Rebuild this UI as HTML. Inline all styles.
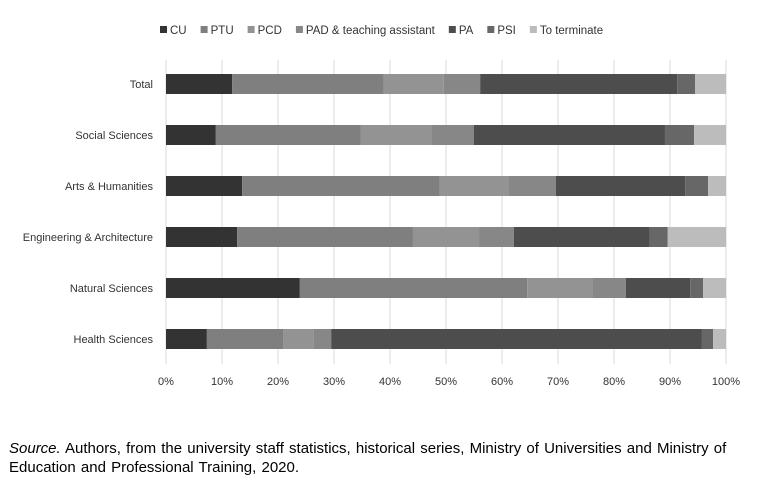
<!DOCTYPE html>
<html><head><meta charset="utf-8"><style>
body{margin:0;background:#fff;width:757px;height:491px;overflow:hidden;font-family:"Liberation Sans",sans-serif}
svg text{font-family:"Liberation Sans",sans-serif}
#src{position:absolute;left:9px;top:439px;font-size:15px;line-height:19px;color:#000;width:756px;word-spacing:1px}
</style></head><body>
<svg id="chart" width="757" height="430" style="position:absolute;left:0;top:0"></svg>
<div id="src"><i>Source.</i> Authors, from the university staff statistics, historical series, Ministry of Universities and Ministry of Education and Professional Training, 2020.</div>
<script>
const categories=["Total","Social Sciences","Arts & Humanities","Engineering & Architecture","Natural Sciences","Health Sciences"];
const seriesNames=["CU","PTU","PCD","PAD & teaching assistant","PA","PSI","To terminate"];
const CU=[11.8,8.9,13.6,12.7,23.9,7.3];
const PTU=[27.1,25.9,35.3,31.4,40.6,13.6];
const PCD=[10.7,12.7,12.2,11.8,11.6,5.4];
const PAD=[6.5,7.5,8.5,6.2,6.0,3.2];
const PA=[35.2,34.1,23.1,24.3,11.5,66.2];
const PSI=[3.2,5.2,4.1,3.2,2.3,2.0];
const TT=[5.5,5.7,3.2,10.4,4.1,2.3];
const tickLabels=["0%","10%","20%","30%","40%","50%","60%","70%","80%","90%","100%"];
const series=[CU,PTU,PCD,PAD,PA,PSI,TT];
const colors=["#333333","#7f7f7f","#939393","#878787","#4d4d4d","#676767","#bcbcbc"];
const svg=document.getElementById('chart');const NS="http://www.w3.org/2000/svg";
function mk(t,a){const e=document.createElementNS(NS,t);for(const k in a)e.setAttribute(k,a[k]);svg.appendChild(e);return e;}
const x=v=>166+v*5.6;const yc=i=>84+i*51;
tickLabels.forEach((t,i)=>{
const g=mk('line',{x1:x(i*10),x2:x(i*10),y1:60,y2:364,stroke:'#d9d9d9','stroke-width':1});


const tx=mk('text',{x:x(i*10),y:385,'text-anchor':'middle','font-size':11,fill:'#333'});tx.textContent=t;


});
categories.forEach((c,i)=>{
const tx=mk('text',{x:153,y:yc(i)+4,'text-anchor':'end','font-size':11,fill:'#333'});tx.textContent=c;


let cum=0;
series.forEach((s,j)=>{
const r=mk('rect',{x:x(cum),y:yc(i)-10,width:s[i]*5.6,height:20,fill:colors[j]});


cum+=s[i];});
});
let lx=160;
seriesNames.forEach((n,j)=>{
const r=mk('rect',{x:lx,y:26,width:7,height:7,fill:colors[j]});


const t=mk('text',{x:lx+10,y:34,'font-size':11.5,fill:'#333'});t.textContent=n;


lx+=10+t.getComputedTextLength()+14;
});
</script>
</body></html>
